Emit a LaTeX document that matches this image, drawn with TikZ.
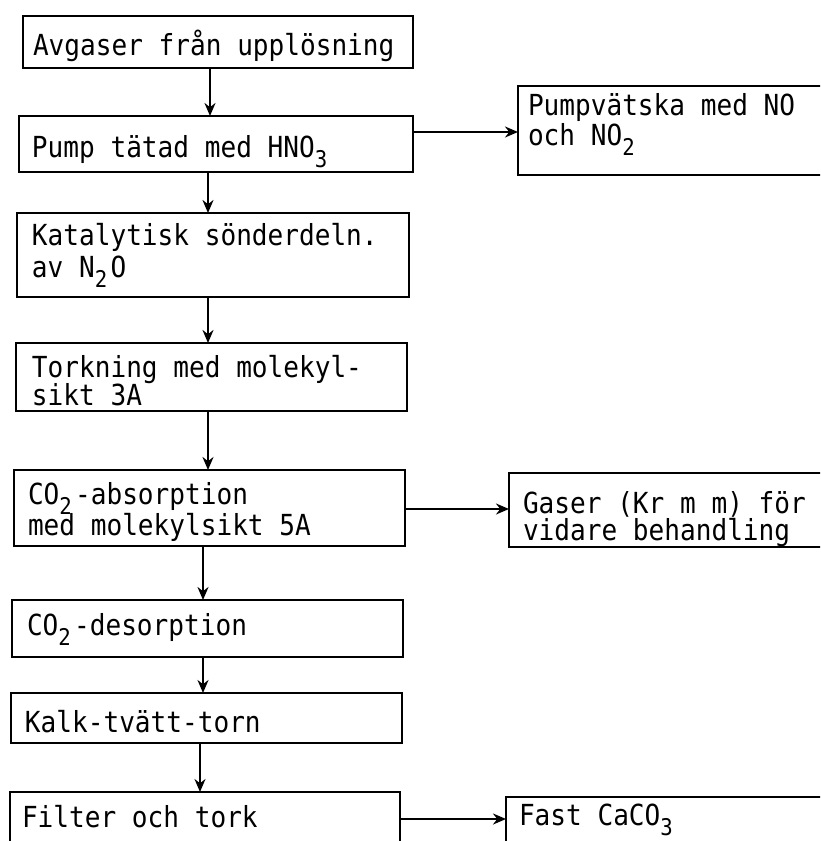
\documentclass[tikz,border=0pt]{standalone}
\usepackage{fontspec}
\usetikzlibrary{arrows.meta,fit}
\newfontfamily\tw[FakeStretch=0.9]{DejaVu Sans Mono}
\newcommand\lowr[1]{\hbox to 7.86pt{\raisebox{-5pt}{\fontsize{11.5}{11.5}\selectfont #1}\hss}}
\newcommand\twolines[3]{\vtop{\baselineskip=#3\lineskiplimit=-100pt\hbox{#1}\hbox{#2}}}
\begin{document}
\begin{tikzpicture}[x=0.5pt,y=-0.5pt,
  box/.style={draw=black,line width=1.3pt,inner sep=0pt,outer sep=0pt},
  txt/.style={inner sep=0pt,outer sep=0pt,anchor=base west,text=black,
    font=\tw\fontsize{14.5}{15}\selectfont},
  arr/.style={draw=black,line width=1.1pt,-{Stealth[length=6.5pt,width=5.5pt]}}]
\clip (0,0) rectangle (820,841);
\fill[white] (0,0) rectangle (820,841);
% main column boxes
\node[box,fit={(23,16) (413,68)}] (b1) {};
\node[box,fit={(19,116) (413,172)}] (b2) {};
\node[box,fit={(17,213) (409,297)}] (b3) {};
\node[box,fit={(16,343) (407,411)}] (b4) {};
\node[box,fit={(14,470) (405,546)}] (b5) {};
\node[box,fit={(12,600) (403,657)}] (b6) {};
\node[box,fit={(11,693) (402,743)}] (b7) {};
\node[box,fit={(10,792) (400,860)}] (b8) {};
% side boxes
\node[box,fit={(518,86) (850,175)}] (r1) {};
\node[box,fit={(509,473) (850,547)}] (r2) {};
\node[box,fit={(506,797) (850,860)}] (r3) {};
% texts
\node[txt] (t1) at (33,55) {Avgaser från upplösning};
\node[txt] (t2) at (32,157) {Pump tätad med HNO\lowr{3}};
\node[txt] (t3) at (32,245) {\twolines{Katalytisk sönderdeln.}{av N\lowr{2}O}{16pt}};
\node[txt] (t4) at (32,377) {\twolines{Torkning med molekyl-}{sikt 3A}{14pt}};
\node[txt] (t5) at (28,504) {\twolines{CO\lowr{2}-absorption}{med molekylsikt 5A}{15.5pt}};
\node[txt] (t6) at (27,635) {CO\lowr{2}-desorption};
\node[txt] (t7) at (25,732) {Kalk-tvätt-torn};
\node[txt] (t8) at (22,827) {Filter och tork};
\node[txt] (u1) at (528,115) {\twolines{Pumpvätska med NO}{och NO\lowr{2}}{15pt}};
\node[txt] (u2) at (523,513) {\twolines{Gaser (Kr m m) för}{vidare behandling}{13.5pt}};
\node[txt] (u3) at (519,825) {Fast CaCO\lowr{3}};
% connector guide coordinates
\coordinate (xa) at (210,0);
\coordinate (xb) at (208,0);
\coordinate (xc) at (203,0);
\coordinate (xd) at (200,0);
\coordinate (ya) at (0,132);
\coordinate (yb) at (0,509);
\coordinate (yc) at (0,819);
% vertical connectors
\draw[arr] (b1.south -| xa) -- (b2.north -| xa);
\draw[arr] (b2.south -| xb) -- (b3.north -| xb);
\draw[arr] (b3.south -| xb) -- (b4.north -| xb);
\draw[arr] (b4.south -| xb) -- (b5.north -| xb);
\draw[arr] (b5.south -| xc) -- (b6.north -| xc);
\draw[arr] (b6.south -| xc) -- (b7.north -| xc);
\draw[arr] (b7.south -| xd) -- (b8.north -| xd);
% horizontal connectors
\draw[arr] (b2.east |- ya) -- (r1.west |- ya);
\draw[arr] (b5.east |- yb) -- (r2.west |- yb);
\draw[arr] (b8.east |- yc) -- (r3.west |- yc);
\end{tikzpicture}
\end{document}
